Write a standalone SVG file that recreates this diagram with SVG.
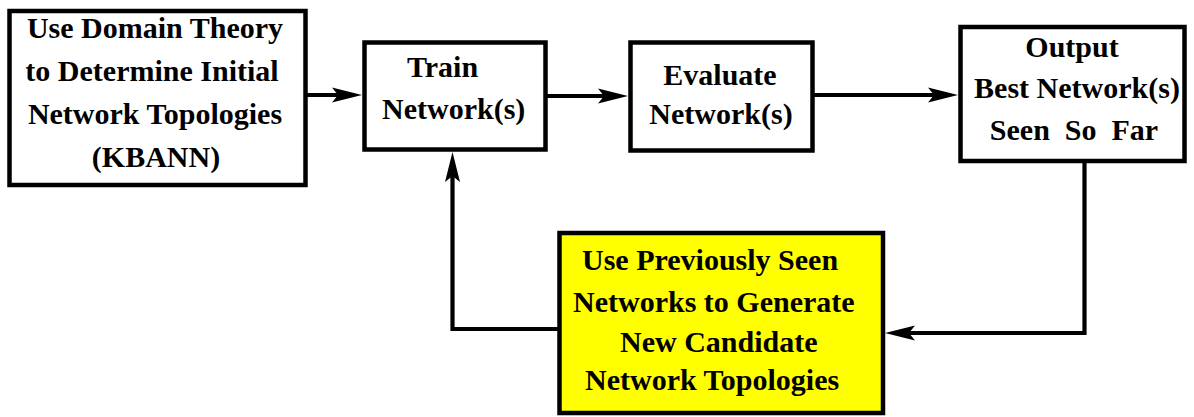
<svg xmlns="http://www.w3.org/2000/svg" width="1194" height="417" viewBox="0 0 1194 417">
  <style>
    .box { fill: #ffffff; stroke: #000000; stroke-width: 4.5; }
    .hl { fill: #ffff00; }
    .lbl { font-family: "Liberation Serif", "Times New Roman", serif; font-weight: bold; font-size: 30px; fill: #000000; }
    .mid { text-anchor: middle; }
    .wire { fill: none; stroke: #000000; stroke-width: 4.2; marker-end: url(#head); }
  </style>
  <defs>
    <marker id="head" markerUnits="userSpaceOnUse" markerWidth="34" markerHeight="20" viewBox="0 -10 34 20" refX="20" refY="0" orient="auto">
      <path d="M30,0 L0,-7.5 L6,0 L0,7.5 Z" fill="#000000"/>
    </marker>
  </defs>
  <rect width="1194" height="417" fill="#ffffff"/>

  <g id="connectors">
    <path class="wire" d="M306,95 H352"/>
    <path class="wire" d="M547,96 H618"/>
    <path class="wire" d="M813,95 H948"/>
    <path class="wire" d="M1084.5,161 V333 H895"/>
    <path class="wire" d="M558,329 H452.5 V162"/>
  </g>

  <g id="domain-theory">
    <rect class="box" x="9.5" y="11" width="296" height="174"/>
    <text class="lbl mid" x="155" y="38">Use Domain Theory</text>
    <text class="lbl mid" x="152" y="81">to Determine Initial</text>
    <text class="lbl mid" x="155" y="124">Network Topologies</text>
    <text class="lbl mid" x="156" y="167">(KBANN)</text>
  </g>

  <g id="train">
    <rect class="box" x="364.5" y="42.5" width="181" height="107"/>
    <text class="lbl" x="407" y="77">Train</text>
    <text class="lbl" x="382" y="119">Network(s)</text>
  </g>

  <g id="evaluate">
    <rect class="box" x="630.5" y="42.5" width="182" height="108"/>
    <text class="lbl mid" x="720" y="85">Evaluate</text>
    <text class="lbl mid" x="721" y="124">Network(s)</text>
  </g>

  <g id="output">
    <rect class="box" x="960.5" y="27" width="224" height="134"/>
    <text class="lbl mid" x="1072" y="57">Output</text>
    <text class="lbl mid" x="1077" y="98">Best Network(s)</text>
    <text class="lbl mid" x="1074" y="140" xml:space="preserve">Seen  So  Far</text>
  </g>

  <g id="generate">
    <rect class="box hl" x="559.5" y="233" width="323.5" height="180"/>
    <text class="lbl" x="582" y="270">Use Previously Seen</text>
    <text class="lbl" x="573" y="312">Networks to Generate</text>
    <text class="lbl" x="620" y="352">New Candidate</text>
    <text class="lbl" x="585" y="390">Network Topologies</text>
  </g>
</svg>
